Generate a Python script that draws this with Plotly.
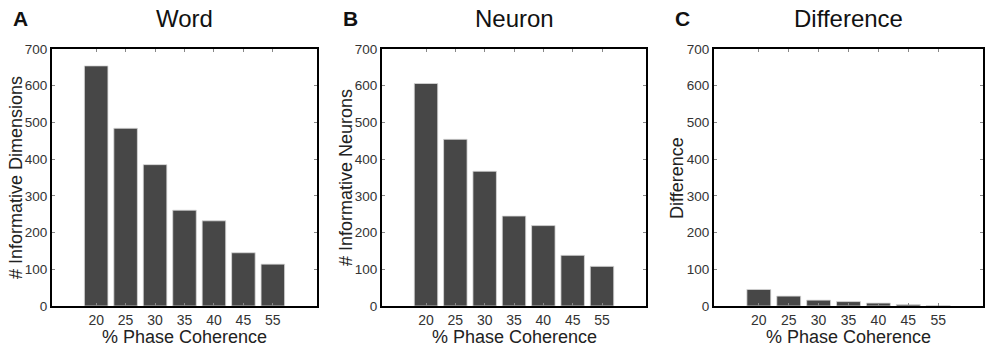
import plotly.graph_objects as go

categories = ["20", "25", "30", "35", "40", "45", "55"]
word_values = [654, 484, 385, 261, 232, 145, 114]
neuron_values = [606, 454, 367, 245, 219, 138, 108]
difference_values = [45, 27, 16, 12, 8, 4, 1]
y_ticks = [0, 100, 200, 300, 400, 500, 600, 700]
x_title = "% Phase Coherence"

panels = [
    ("A", "Word", "# Informative Dimensions", word_values, [52, 317], 16),
    ("B", "Neuron", "# Informative Neurons", neuron_values, [382, 646], 346),
    ("C", "Difference", "Difference", difference_values, [714, 983], 677),
]

W, H = 992, 353
FONT = "Liberation Sans, Arial, Helvetica, sans-serif"
fig = go.Figure()

for i, (letter, title, ytitle, vals, (x0, x1), ytx) in enumerate(panels):
    n = "" if i == 0 else str(i + 1)
    fig.add_trace(go.Bar(
        x=categories, y=vals, xaxis="x" + n, yaxis="y" + n,
        marker=dict(color="#474747", line=dict(color="#d8d8d8", width=0.8)),
        width=0.8, showlegend=False,
    ))
    dom = [x0 / W, x1 / W]
    fig.update_layout(**{
        "xaxis" + n: dict(
            domain=dom, anchor="y" + n, type="category", range=[-1.5, 7.5],
            showline=True, linecolor="black", linewidth=2, mirror="allticks",
            ticks="inside", ticklen=3, tickcolor="#888", showgrid=False,
            automargin=False, ticklabelstandoff=0,
            tickfont=dict(size=14, color="#333", family=FONT),
            fixedrange=True,
        ),
        "yaxis" + n: dict(
            domain=[1 - 306 / H, 1 - 49 / H], anchor="x" + n, range=[0, 700],
            tickvals=y_ticks, showline=True, linecolor="black", linewidth=2,
            mirror="allticks", ticks="inside", ticklen=3, tickcolor="#888",
            showgrid=False, zeroline=False, ticklabelstandoff=0, automargin=False,
            tickfont=dict(size=13.5, color="#333", family=FONT),
            fixedrange=True,
        ),
    })
    fig.add_annotation(x=(x0 + x1) / 2 / W, y=1 - 18 / H, xref="paper", yref="paper",
                       text=title, showarrow=False, xanchor="center", yanchor="middle",
                       font=dict(size=24, color="#111", family=FONT))
    fig.add_annotation(x=(x0 - 32) / W, y=1 - 18 / H, xref="paper", yref="paper",
                       text="<b>" + letter + "</b>", showarrow=False, xanchor="center", yanchor="middle",
                       font=dict(size=21, color="#111", family=FONT))
    fig.add_annotation(x=(x0 + x1) / 2 / W, y=1 - 337 / H, xref="paper", yref="paper",
                       text=x_title, showarrow=False, xanchor="center", yanchor="middle",
                       font=dict(size=18, color="#222", family=FONT))
    fig.add_annotation(x=ytx / W, y=1 - 178 / H, xref="paper", yref="paper",
                       text=ytitle, showarrow=False, xanchor="center", yanchor="middle",
                       textangle=-90, font=dict(size=18, color="#222", family=FONT))

fig.update_layout(
    width=W, height=H, margin=dict(l=0, r=0, t=0, b=0, autoexpand=False),
    paper_bgcolor="white", plot_bgcolor="white", bargap=0.2,
    font=dict(family=FONT),
)
fig.write_html("out.html", config={"displayModeBar": False},
               post_script="document.body.style.margin='0';document.body.style.overflow='hidden';")
